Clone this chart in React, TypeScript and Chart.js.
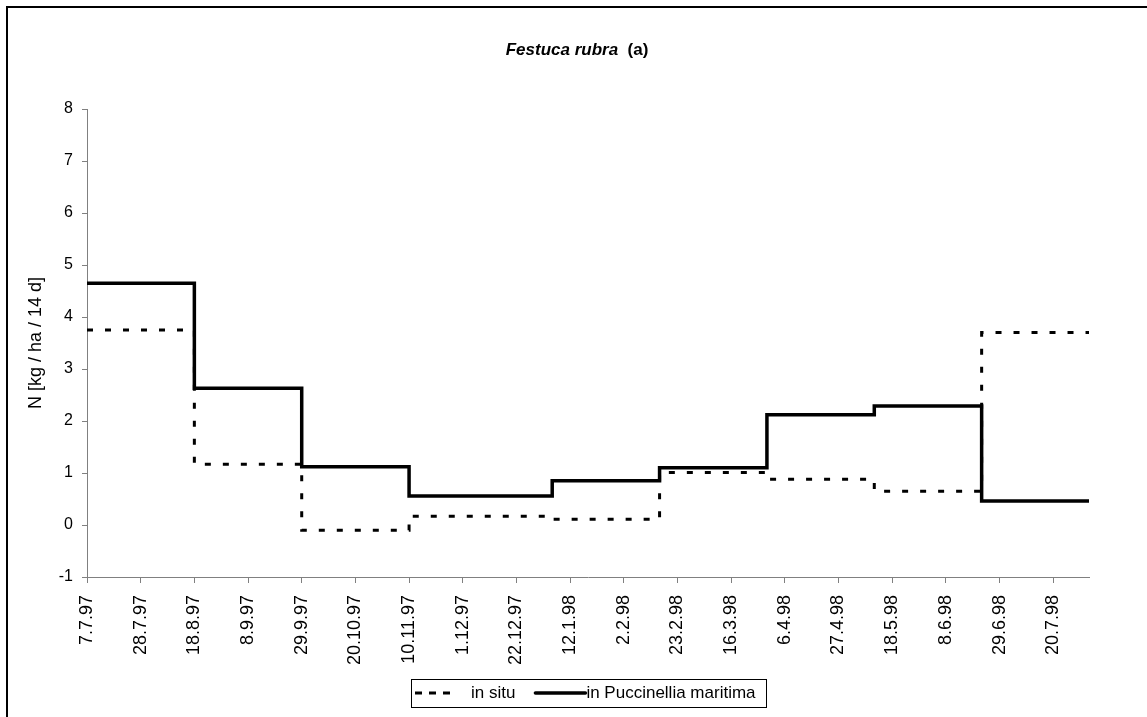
import React, { useEffect, useRef } from 'react';
import { Chart, registerables } from 'chart.js';

Chart.register(...registerables);

const FONT = "'Liberation Sans', Arial, Helvetica, sans-serif";

// x-axis tick positions (days since 7.7.97) and their labels
const tickDays = [0, 21, 42, 63, 84, 105, 126, 147, 168, 189, 210, 231, 252, 273, 294, 315, 336, 357, 378];
const tickLabels = [
  '7.7.97', '28.7.97', '18.8.97', '8.9.97', '29.9.97', '20.10.97', '10.11.97', '1.12.97',
  '22.12.97', '12.1.98', '2.2.98', '23.2.98', '16.3.98', '6.4.98', '27.4.98', '18.5.98',
  '8.6.98', '29.6.98', '20.7.98',
];

// sampling period boundaries (days since 7.7.97)
const periodBoundaries = [0, 42, 84, 126, 182, 224, 266, 308, 350, 392];

// N [kg / ha / 14 d] per period
const inSituValues = [3.75, 1.17, -0.1, 0.17, 0.11, 1.01, 0.88, 0.65, 3.7];
const puccinelliaValues = [4.65, 2.63, 1.12, 0.56, 0.85, 1.1, 2.12, 2.29, 0.46];

const seriesNames = ['in situ', 'in Puccinellia maritima'];
const titleItalic = 'Festuca rubra';
const titleRest = '  (a)';
const yAxisTitle = 'N [kg / ha / 14 d]';

function stepPoints(values: number[]) {
  const pts: { x: number; y: number }[] = [];
  values.forEach((v, i) => {
    pts.push({ x: periodBoundaries[i], y: v });
    pts.push({ x: periodBoundaries[i + 1], y: v });
  });
  return pts;
}

const titlePlugin = {
  id: 'customTitle',
  afterDraw(chart: any) {
    const ctx = chart.ctx as CanvasRenderingContext2D;
    ctx.save();
    ctx.fillStyle = '#000';
    ctx.textBaseline = 'middle';
    ctx.textAlign = 'left';
    ctx.font = `italic bold 17px ${FONT}`;
    const wa = ctx.measureText(titleItalic).width;
    ctx.font = `bold 17px ${FONT}`;
    const wb = ctx.measureText(titleRest).width;
    const cx = (chart.chartArea.left + chart.chartArea.right) / 2 - 11;
    const x0 = cx - (wa + wb) / 2;
    const y = 50;
    ctx.font = `italic bold 17px ${FONT}`;
    ctx.fillText(titleItalic, x0, y);
    ctx.font = `bold 17px ${FONT}`;
    ctx.fillText(titleRest, x0 + wa, y);
    ctx.restore();
  },
};

const legendPlugin = {
  id: 'customLegend',
  afterDraw(chart: any) {
    const ctx = chart.ctx as CanvasRenderingContext2D;
    ctx.save();
    ctx.font = `17px ${FONT}`;
    const w1 = ctx.measureText(seriesNames[0]).width;
    const w2 = ctx.measureText(seriesNames[1]).width;
    const padL = 4, sample1 = 42, gap1 = 14, between = 20, sample2 = 50, gap2 = 1, padR = 10;
    const total = padL + sample1 + gap1 + w1 + between + sample2 + gap2 + w2 + padR;
    const cx = (chart.chartArea.left + chart.chartArea.right) / 2;
    const left = Math.round(cx - total / 2);
    const top = 679;
    const h = 28;
    const cy = top + h / 2;
    ctx.fillStyle = '#fff';
    ctx.fillRect(left, top, total, h);
    ctx.strokeStyle = '#000';
    ctx.lineWidth = 1;
    ctx.setLineDash([]);
    ctx.strokeRect(left + 0.5, top + 0.5, Math.round(total), h);

    let x = left + padL;
    ctx.lineWidth = 3;
    ctx.setLineDash([7, 7]);
    ctx.beginPath();
    ctx.moveTo(x, cy);
    ctx.lineTo(x + sample1, cy);
    ctx.stroke();
    x += sample1 + gap1;
    ctx.fillStyle = '#000';
    ctx.textBaseline = 'middle';
    ctx.textAlign = 'left';
    ctx.fillText(seriesNames[0], x, cy);
    x += w1 + between;
    ctx.setLineDash([]);
    ctx.lineWidth = 3.5;
    ctx.lineCap = 'round';
    ctx.beginPath();
    ctx.moveTo(x, cy);
    ctx.lineTo(x + sample2, cy);
    ctx.stroke();
    x += sample2 + gap2;
    ctx.fillText(seriesNames[1], x, cy);
    ctx.restore();
  },
};

function ChartView() {
  const ref = useRef<HTMLCanvasElement | null>(null);
  useEffect(() => {
    if (!ref.current) return;
    const chart = new Chart(ref.current, {
      type: 'line',
      data: {
        datasets: [
          {
            label: seriesNames[0],
            data: stepPoints(inSituValues),
            borderColor: '#000',
            borderWidth: 3,
            borderDash: [6, 12],
            pointRadius: 0,
            tension: 0,
            fill: false,
          },
          {
            label: seriesNames[1],
            data: stepPoints(puccinelliaValues),
            borderColor: '#000',
            borderWidth: 3.5,
            pointRadius: 0,
            tension: 0,
            fill: false,
            borderJoinStyle: 'miter',
          },
        ],
      },
      options: {
        responsive: false,
        animation: false,
        events: [],
        layout: { padding: { left: 0, right: 58, top: 109, bottom: 0 } },
        plugins: {
          legend: { display: false },
          title: { display: false },
          tooltip: { enabled: false },
        },
        scales: {
          x: {
            type: 'linear',
            position: 'bottom',
            min: 0,
            max: 392,
            afterBuildTicks: (scale: any) => {
              scale.ticks = tickDays.map((v) => ({ value: v }));
            },
            afterFit: (scale: any) => {
              scale.height = 140;
            },
            ticks: {
              autoSkip: false,
              minRotation: 90,
              maxRotation: 90,
              padding: 12,
              color: '#000',
              font: { family: FONT, size: 18 },
              callback: (value: any) => {
                const i = tickDays.indexOf(Number(value));
                return i >= 0 ? tickLabels[i] : '';
              },
            },
            grid: { drawOnChartArea: false, tickLength: 6, color: '#808080' },
            border: { color: '#808080', width: 1 },
          },
          y: {
            min: -1,
            max: 8,
            afterFit: (scale: any) => {
              scale.width = 87;
            },
            ticks: {
              stepSize: 1,
              padding: 9,
              color: '#000',
              font: { family: FONT, size: 16 },
            },
            title: {
              display: true,
              text: yAxisTitle,
              color: '#000',
              font: { family: FONT, size: 18 },
              padding: { top: 25, bottom: 0 },
            },
            grid: { drawOnChartArea: false, tickLength: 5, color: '#808080' },
            border: { color: '#808080', width: 1 },
          },
        },
      },
      plugins: [titlePlugin, legendPlugin],
    } as any);
    return () => chart.destroy();
  }, []);
  return <canvas ref={ref} width={1147} height={717} style={{ position: 'absolute', left: 0, top: 0, width: 1147, height: 717 }} />;
}

export default function App() {
  return (
    <div style={{ position: 'fixed', left: 0, top: 0, width: 1147, height: 717, overflow: 'hidden', background: '#fff' }}>
      <div
        style={{
          position: 'absolute',
          left: 6,
          top: 6,
          width: 1300,
          height: 900,
          borderLeft: '2px solid #000',
          borderTop: '2px solid #000',
        }}
      />
      <ChartView />
    </div>
  );
}
